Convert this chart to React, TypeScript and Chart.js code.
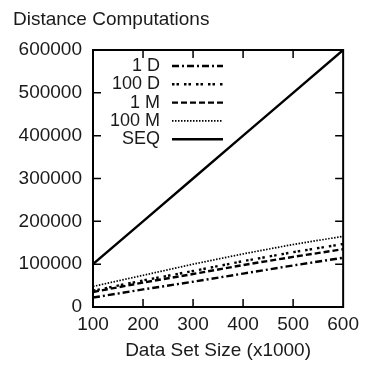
import React, { useEffect, useRef } from "react";
import { Chart, registerables } from "chart.js";

Chart.register(...registerables);

const dataSetSizes = [100, 200, 300, 400, 500, 600];
const oneD = [22000, 41000, 59000, 78000, 97000, 115000];
const hundredD = [38000, 62000, 84000, 107000, 128000, 147000];
const oneM = [35000, 57000, 77000, 98000, 117000, 135000];
const hundredM = [48000, 74000, 100000, 124000, 146000, 165000];
const seq = [100000, 200000, 300000, 400000, 500000, 600000];
const seriesNames = ["1 D", "100 D", "1 M", "100 M", "SEQ"];
const xTickValues = [100, 200, 300, 400, 500, 600];
const yTickValues = [0, 100000, 200000, 300000, 400000, 500000, 600000];

const FONT = '"Liberation Sans", Arial, Helvetica, sans-serif';
const INK = "#1a1a1a";

const gnuplotPlugin = {
  id: "gnuplotDecor",
  afterDatasetsDraw(chart: any) {
    const { ctx, chartArea: a, scales } = chart;
    ctx.save();
    ctx.strokeStyle = "#000";
    ctx.setLineDash([]);
    ctx.lineWidth = 2;
    ctx.strokeRect(a.left, a.top, a.right - a.left, a.bottom - a.top);
    const tl = 8;
    ctx.lineWidth = 1.5;
    ctx.beginPath();
    xTickValues.forEach((v) => {
      const x = scales.x.getPixelForValue(v);
      if (x <= a.left + 1 || x >= a.right - 1) return;
      ctx.moveTo(x, a.bottom);
      ctx.lineTo(x, a.bottom - tl);
      ctx.moveTo(x, a.top);
      ctx.lineTo(x, a.top + tl);
    });
    yTickValues.forEach((v) => {
      const y = scales.y.getPixelForValue(v);
      if (y <= a.top + 1 || y >= a.bottom - 1) return;
      ctx.moveTo(a.left, y);
      ctx.lineTo(a.left + tl, y);
      ctx.moveTo(a.right, y);
      ctx.lineTo(a.right - tl, y);
    });
    ctx.stroke();

    // legend
    ctx.font = "18px " + FONT;
    ctx.textAlign = "right";
    ctx.textBaseline = "middle";
    ctx.fillStyle = INK;
    chart.data.datasets.forEach((ds: any, i: number) => {
      const y = a.top + 16 + i * 18.3;
      ctx.fillText(ds.label, a.left + 67, y);
      ctx.setLineDash(ds.borderDash || []);
      ctx.lineWidth = ds.borderWidth;
      ctx.strokeStyle = "#000";
      ctx.beginPath();
      ctx.moveTo(a.left + 79, y);
      ctx.lineTo(a.left + 130, y);
      ctx.stroke();
    });
    ctx.restore();
  },
};

export default function App() {
  const ref = useRef<HTMLCanvasElement | null>(null);

  useEffect(() => {
    if (!ref.current) return;
    const mk = (label: string, values: number[], dash: number[], width: number) => ({
      label,
      data: dataSetSizes.map((x, i) => ({ x, y: values[i] })),
      borderColor: "#000",
      backgroundColor: "#000",
      borderDash: dash,
      borderWidth: width,
      pointRadius: 0,
      fill: false,
      tension: 0,
    });
    const chart = new Chart(ref.current, {
      type: "line",
      data: {
        datasets: [
          mk(seriesNames[0], oneD, [7, 3, 2, 3], 2.4),
          mk(seriesNames[1], hundredD, [2.5, 2, 2.5, 5], 2.4),
          mk(seriesNames[2], oneM, [6, 3], 2.4),
          mk(seriesNames[3], hundredM, [1.5, 1.5], 1.7),
          mk(seriesNames[4], seq, [], 2.4),
        ],
      },
      options: {
        responsive: false,
        animation: false,
        layout: { padding: { left: 13, right: 19, top: 0, bottom: 0 } },
        plugins: {
          legend: { display: false },
          tooltip: { enabled: false },
          title: {
            display: true,
            text: "Distance Computations",
            align: "start",
            color: INK,
            font: { family: FONT, size: 19, weight: "normal" },
            padding: { top: 8, bottom: 19.2 },
          },
        },
        scales: {
          x: {
            type: "linear",
            min: 100,
            max: 600,
            afterBuildTicks: (s: any) => {
              s.ticks = xTickValues.map((v) => ({ value: v }));
            },
            afterFit: (s: any) => {
              s.height = 58;
            },
            grid: { display: false, drawTicks: false },
            border: { display: false },
            ticks: {
              color: INK,
              font: { family: FONT, size: 19 },
              padding: 6,
              maxRotation: 0,
              callback: (v: any) => String(v),
            },
            title: {
              display: true,
              text: "Data Set Size (x1000)",
              color: INK,
              font: { family: FONT, size: 19 },
              padding: { top: 0, bottom: 3 },
            },
          },
          y: {
            type: "linear",
            min: 0,
            max: 600000,
            afterBuildTicks: (s: any) => {
              s.ticks = yTickValues.map((v) => ({ value: v }));
            },
            afterFit: (s: any) => {
              s.width = 80;
            },
            grid: { display: false, drawTicks: false },
            border: { display: false },
            ticks: {
              color: INK,
              font: { family: FONT, size: 19 },
              padding: 11,
              callback: (v: any) => String(v),
            },
          },
        },
      },
      plugins: [gnuplotPlugin],
    } as any);
    return () => chart.destroy();
  }, []);

  return (
    <div style={{ position: "fixed", left: 0, top: 0, width: 365, height: 365, background: "#fff" }}>
      <canvas ref={ref} width={365} height={365} />
    </div>
  );
}
